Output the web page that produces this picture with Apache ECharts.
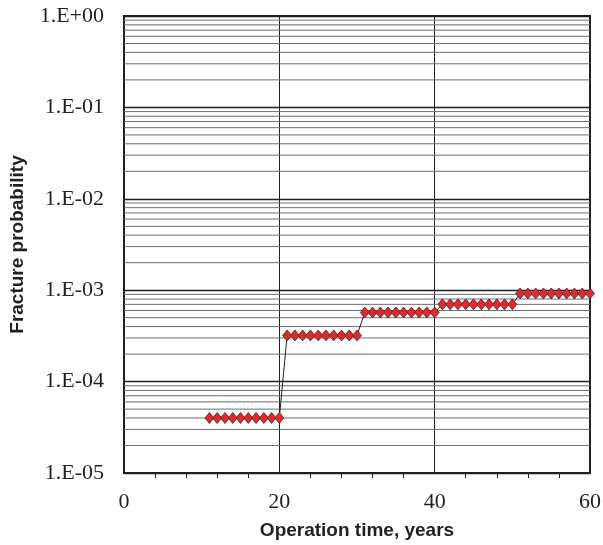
<!DOCTYPE html>
<html>
<head>
<meta charset="utf-8">
<script src="https://cdn.jsdelivr.net/npm/echarts@6/dist/echarts.min.js"></script>
<style>
    html, body { margin: 0; padding: 0; background: #fff; }
    #chart { width: 603px; height: 545px; }
</style>
</head>
<body>
<div id="chart"></div>
<script>
// operation time (years) and fracture probability
const years = [11, 12, 13, 14, 15, 16, 17, 18, 19, 20,
    21, 22, 23, 24, 25, 26, 27, 28, 29, 30,
    31, 32, 33, 34, 35, 36, 37, 38, 39, 40,
    41, 42, 43, 44, 45, 46, 47, 48, 49, 50,
    51, 52, 53, 54, 55, 56, 57, 58, 59, 60]
const probability = [4.0e-5, 4.0e-5, 4.0e-5, 4.0e-5, 4.0e-5, 4.0e-5, 4.0e-5, 4.0e-5, 4.0e-5, 4.0e-5,
    3.2e-4, 3.2e-4, 3.2e-4, 3.2e-4, 3.2e-4, 3.2e-4, 3.2e-4, 3.2e-4, 3.2e-4, 3.2e-4,
    5.7e-4, 5.7e-4, 5.7e-4, 5.7e-4, 5.7e-4, 5.7e-4, 5.7e-4, 5.7e-4, 5.7e-4, 5.7e-4,
    7.0e-4, 7.0e-4, 7.0e-4, 7.0e-4, 7.0e-4, 7.0e-4, 7.0e-4, 7.0e-4, 7.0e-4, 7.0e-4,
    9.2e-4, 9.2e-4, 9.2e-4, 9.2e-4, 9.2e-4, 9.2e-4, 9.2e-4, 9.2e-4, 9.2e-4, 9.2e-4]
const decades = [1e-5, 1e-4, 1e-3, 1e-2, 1e-1, 1]
const minorSteps = [2, 3, 4, 5, 6, 7, 8, 9]
const xRange = [0, 60]

function expLabel(v) {
    const e = Math.round(Math.log10(v))
    const s = e < 0 ? '-' : '+'
    return '1.E' + s + String(Math.abs(e)).padStart(2, '0')
}

// minor log gridlines 2..9 inside each decade, one flat line each
const minorSeries = []
decades.slice(0, -1).forEach(d => {
    minorSteps.forEach(m => {
        minorSeries.push({
            type: 'line',
            data: xRange.map(x => [x, d * m]),
            symbol: 'none',
            silent: true,
            lineStyle: { color: '#6e6e6e', width: 1 },
            z: 1
        })
    })
})

const chart = echarts.init(document.getElementById('chart'))
chart.setOption({
    animation: false,
    grid: {
        left: 124, right: 13, top: 16, bottom: 72,
        outerBoundsMode: 'none',
        containLabel: false,
        show: true, borderColor: '#231f20', borderWidth: 2
    },
    xAxis: {
        type: 'value',
        min: 0, max: 60, interval: 20,
        name: 'Operation time, years',
        nameLocation: 'middle',
        nameGap: 48,
        nameTextStyle: { fontFamily: 'Liberation Sans', fontWeight: 'bold', fontSize: 19, color: '#231f20' },
        axisLine: { show: true, lineStyle: { color: '#231f20', width: 2 } },
        axisTick: { show: false },
        minorTick: { show: true, splitNumber: 5, length: 5, lineStyle: { color: '#231f20', width: 1 } },
        axisLabel: { fontFamily: 'Liberation Serif', fontSize: 22, color: '#231f20', margin: 18 },
        splitLine: { show: true, lineStyle: { color: '#231f20', width: 1 } }
    },
    yAxis: {
        type: 'log',
        logBase: 10,
        min: 1e-5, max: 1,
        name: 'Fracture probability',
        nameLocation: 'middle',
        nameGap: 97,
        nameTextStyle: { fontFamily: 'Liberation Sans', fontWeight: 'bold', fontSize: 19, color: '#231f20' },
        axisLine: { show: true, lineStyle: { color: '#231f20', width: 2 } },
        axisTick: { show: false },
        axisLabel: {
            fontFamily: 'Liberation Serif', fontSize: 22, color: '#231f20', margin: 20,
            formatter: expLabel
        },
        splitLine: { show: true, lineStyle: { color: '#231f20', width: 1.3 } }
    },
    series: minorSeries.concat([
        {
            type: 'line',
            data: years.map((y, i) => [y, probability[i]]),
            symbol: 'diamond',
            symbolSize: [9, 11],
            lineStyle: { color: '#231f20', width: 1 },
            itemStyle: { color: '#e8262a', borderColor: '#3a2a2a', borderWidth: 0.8 },
            z: 5
        }
    ])
})

window.onresize = () => chart.resize()
</script>
</body>
</html>
